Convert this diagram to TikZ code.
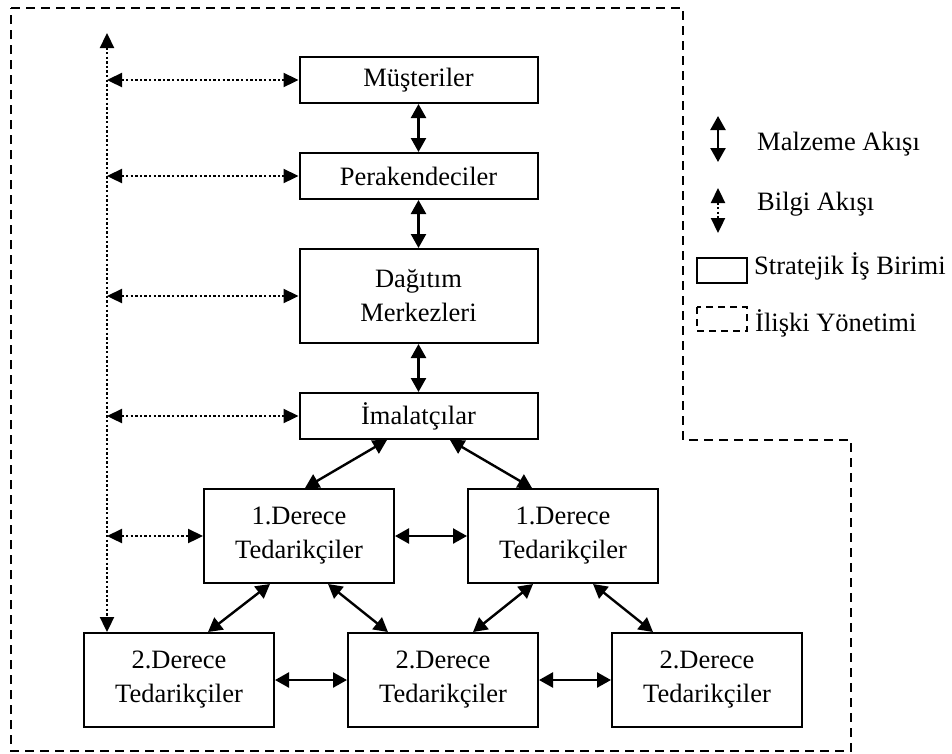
\documentclass[tikz,border=0pt]{standalone}
\usepackage{fontspec}
\setmainfont{Liberation Serif}
\usetikzlibrary{arrows.meta}
\begin{document}
\begin{tikzpicture}[x=1pt,y=-1pt,
  font=\fontsize{26.5}{34}\selectfont,
  unit/.style={draw,line width=2pt,inner sep=0pt,align=center},
  widebox/.style={unit,minimum width=238pt,minimum height=46pt},
  tallbox/.style={unit,minimum width=238pt,minimum height=94pt},
  supbox/.style={unit,minimum width=190pt,minimum height=94pt},
  mat/.style={line width=2.4pt,
    {Triangle[length=14pt,width=15pt]}-{Triangle[length=14pt,width=15pt]}},
  info/.style={line width=2.3pt,dash pattern=on 2.3pt off 2.3pt,
    {Triangle[length=15pt,width=14pt]}-{Triangle[length=15pt,width=14pt]}},
  mgmt/.style={line width=2.1pt,dash pattern=on 9pt off 6pt},
  legtext/.style={anchor=base west,inner sep=0pt}]
\useasboundingbox (0,0) rectangle (952,753);

% relationship management boundary
\draw[mgmt] (11,8) -- (683,8) -- (683,440) -- (851,440) -- (851,751) -- (11,751) -- cycle;

% supply chain units
\node[widebox] (mus) at (418.5,80) {Müşteriler};
\node[widebox] (per) at (418.5,176) {Perakendeciler};
\node[tallbox] (dag) at (418.5,296) {Dağıtım\\Merkezleri};
\node[widebox] (ima) at (418.5,416) {İmalatçılar};
\node[supbox] (t1a) at (299,536) {1.Derece\\Tedarikçiler};
\node[supbox] (t1b) at (563,536) {1.Derece\\Tedarikçiler};
\node[supbox] (t2a) at (179,680) {2.Derece\\Tedarikçiler};
\node[supbox] (t2b) at (443,680) {2.Derece\\Tedarikçiler};
\node[supbox] (t2c) at (707,680) {2.Derece\\Tedarikçiler};

% material flow
\draw[mat] (mus) -- (per);
\draw[mat] (per) -- (dag);
\draw[mat] (dag) -- (ima);
\draw[mat] ([xshift=-31.5pt]ima.south) -- ([xshift=6pt]t1a.north);
\draw[mat] ([xshift=31.5pt]ima.south) -- ([xshift=-31pt]t1b.north);
\draw[mat] (t1a) -- (t1b);
\draw[mat] ([xshift=-29pt]t1a.south) -- ([xshift=29pt]t2a.north);
\draw[mat] ([xshift=29pt]t1a.south) -- ([xshift=-55pt]t2b.north);
\draw[mat] ([xshift=-30pt]t1b.south) -- ([xshift=30pt]t2b.north);
\draw[mat] ([xshift=30pt]t1b.south) -- ([xshift=-54pt]t2c.north);
\draw[mat] (t2a) -- (t2b);
\draw[mat] (t2b) -- (t2c);

% information flow
\coordinate (itop) at (107,33);
\draw[info] (itop) -- (t2a.north -| itop);
\draw[info] (mus.west -| itop) -- (mus.west);
\draw[info] (per.west -| itop) -- (per.west);
\draw[info] (dag.west -| itop) -- (dag.west);
\draw[info] (ima.west -| itop) -- (ima.west);
\draw[info] (t1a.west -| itop) -- (t1a.west);

% legend
\coordinate (lm1) at (718,116);
\coordinate (lm2) at (718,162);
\draw[mat] (lm1) -- (lm2);
\node[legtext] (lmt) at (757,150) {Malzeme Akışı};
\coordinate (li1) at (718,188);
\coordinate (li2) at (718,233);
\draw[info] (li1) -- (li2);
\node[legtext] (lit) at (757,210.5) {Bilgi Akışı};
\draw[line width=2pt] (697,258) rectangle (747,283);
\node[legtext] (lst) at (754,274) {Stratejik İş Birimi};
\draw[line width=2pt,dash pattern=on 7pt off 5pt] (697,307) rectangle (747,331);
\node[legtext] (lyt) at (755,331.5) {İlişki Yönetimi};
\end{tikzpicture}
\end{document}
